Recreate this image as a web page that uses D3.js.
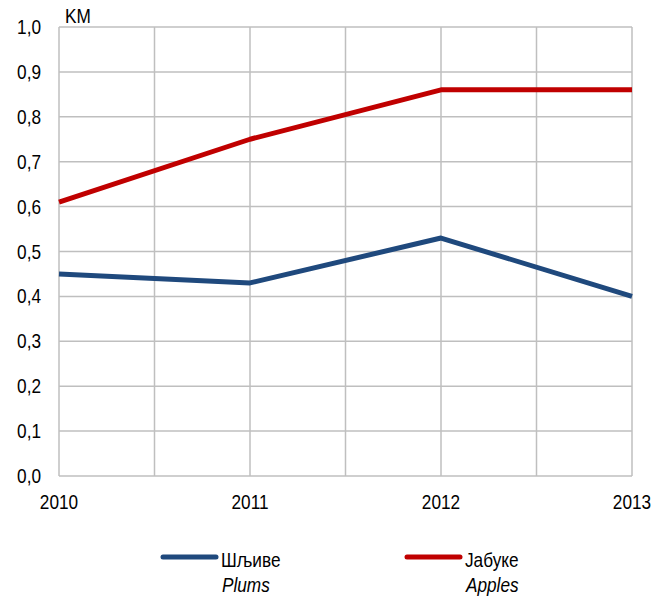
<!DOCTYPE html>
<html><head><meta charset="utf-8">
<script src="https://cdn.jsdelivr.net/npm/d3@7"></script>
<style>
body{margin:0;background:#fff;}
text{font-family:"Liberation Sans",Arial,sans-serif;fill:#000;}
</style></head><body>
<svg id="c" width="664" height="599"></svg>
<script>
const years = [2010, 2011, 2012, 2013];
const plums = [0.45, 0.43, 0.53, 0.40];
const apples = [0.61, 0.75, 0.86, 0.86];
const yTicks = [0, 0.1, 0.2, 0.3, 0.4, 0.5, 0.6, 0.7, 0.8, 0.9, 1.0];
const xGrid = [2010, 2010.5, 2011, 2011.5, 2012, 2012.5, 2013];
const seriesNames = [["Шљиве","Plums"],["Јабуке","Apples"]];
const colors = ["#1f497d","#c00000"];
const unit = "KM";

const svg = d3.select("#c");
const x = d3.scaleLinear().domain([2010, 2013]).range([59, 632]);
const y = d3.scaleLinear().domain([0, 1]).range([476, 27]);
const fmt = v => d3.format(".1f")(v).replace(".", ",");
const SX = 0.82, FS = 21;

function ntext(sel, tx, ty) {
  return sel.attr("transform", (d, i) => `translate(${tx(d, i)},${ty(d, i)}) scale(${SX},1)`)
    .attr("font-size", FS);
}

const grid = svg.append("g");
grid.selectAll("line.h").data(yTicks).join("line")
  .attr("x1", x(2010)).attr("x2", x(2013))
  .attr("y1", d => y(d)).attr("y2", d => y(d))
  .attr("stroke", "#bfbfbf").attr("stroke-width", 1.5);
grid.selectAll("line.v").data(xGrid).join("line")
  .attr("x1", d => x(d)).attr("x2", d => x(d))
  .attr("y1", y(0)).attr("y2", y(1))
  .attr("stroke", "#bfbfbf").attr("stroke-width", 1.5);

ntext(svg.append("g").selectAll("text").data(yTicks).join("text"),
  () => 41, d => y(d) + 7)
  .attr("text-anchor", "end").text(fmt);

ntext(svg.append("g").selectAll("text").data(years).join("text"),
  d => x(d), () => 509)
  .attr("text-anchor", "middle").text(d => d);

ntext(svg.append("text").datum(unit), () => 65, () => 23).text(unit);

const line = d3.line().x((d, i) => x(years[i])).y(d => y(d));
[plums, apples].forEach((s, k) => {
  svg.append("path").datum(s).attr("d", line)
    .attr("fill", "none").attr("stroke", colors[k]).attr("stroke-width", 5)
    .attr("stroke-linejoin", "round");
});

const legX = [163, 407];
seriesNames.forEach((n, k) => {
  const g = svg.append("g").attr("transform", `translate(${legX[k]},557)`);
  g.append("line").attr("x1", 0).attr("x2", 53).attr("y1", 0).attr("y2", 0)
    .attr("stroke", colors[k]).attr("stroke-width", 5).attr("stroke-linecap", "round");
  ntext(g.append("text").datum(n[0]), () => 58, () => 10).text(n[0]);
  ntext(g.append("text").datum(n[1]), () => 59, () => 35)
    .attr("font-style", "italic").text(n[1]);
});
</script>
</body></html>
